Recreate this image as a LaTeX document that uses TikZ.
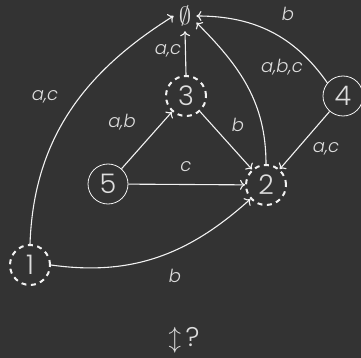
\documentclass[tikz,border=0pt]{standalone}
\usepackage{fontspec}
\setmainfont{Poppins}[UprightFont=* Light, ItalicFont=* Light Italic]
\usetikzlibrary{arrows.meta}
\definecolor{bg}{HTML}{333333}
\definecolor{fg}{HTML}{F2F2F2}
\definecolor{lb}{HTML}{DDDDDD}
\begin{document}
\begin{tikzpicture}[x=1pt,y=-1pt,
  st/.style={circle, draw=fg, line width=0.8pt, minimum size=40pt, inner sep=0pt, text=lb, font=\fontsize{27}{27}\selectfont},
  fin/.style={st, line width=2pt, dash pattern=on 5pt off 4.5pt},
  lbl/.style={text=lb, font=\fontsize{18}{18}\selectfont\itshape, inner sep=0pt},
  ar/.style={draw=fg, line width=1.1pt, -{To[length=5pt,width=10pt]}}]
\fill[bg] (0,0) rectangle (361,358);
\useasboundingbox (0,0) rectangle (361,358);
\node[text=lb, font=\fontsize{25}{25}\selectfont, inner sep=5pt] (e) at (185,16) {$\emptyset$};
\node[fin] (n3) at (186,96) {3};
\node[st] (n4) at (343,96) {4};
\node[st] (n5) at (108,184) {5};
\node[fin] (n2) at (266,185) {2};
\node[fin] (n1) at (30,265) {1};
\node[text=lb, font=\fontsize{27}{27}\selectfont, inner sep=0pt] (q) at (184,340) {$\updownarrow$\,?};
\draw[ar] (n1.north) to[out=88, in=-148] (e.west);
\draw[ar] (n3.north) -- (e.south);
\draw[ar] (n4.140) to[out=125, in=0] (e.east);
\draw[ar] (n2.north) to[out=90, in=-45] (e.-30);
\draw[ar] (n5) -- (n3);
\draw[ar] (n3) -- (n2);
\draw[ar] (n4) -- (n2);
\draw[ar] (n5) -- (n2);
\draw[ar] (n1.east) to[out=-8, in=-138] (n2);
\node[lbl] (l1) at (45,97) {a,c};
\node[lbl] (l2) at (168,51) {a,c};
\node[lbl] (l3) at (288,14) {b};
\node[lbl] (l4) at (282,67) {a,b,c};
\node[lbl] (l5) at (122,122) {a,b};
\node[lbl] (l6) at (238,125) {b};
\node[lbl] (l7) at (326,149) {a,c};
\node[lbl] (l8) at (186,167) {c};
\node[lbl] (l9) at (175,276) {b};
\end{tikzpicture}
\end{document}
